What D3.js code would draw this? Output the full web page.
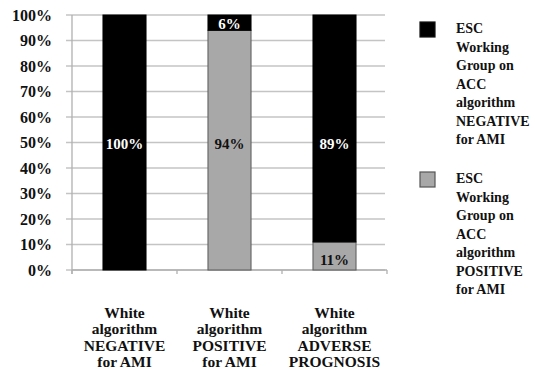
<!DOCTYPE html>
<html>
<head>
<meta charset="utf-8">
<script src="https://cdn.jsdelivr.net/npm/d3@7"></script>
<style>
  html, body { margin: 0; padding: 0; background: #fff; }
  svg { display: block; }
  text { font-family: "Liberation Serif", "Times New Roman", serif; font-weight: bold; }
</style>
</head>
<body>
<svg id="chart" width="535" height="370"></svg>
<script>
// Categories (each label broken into its printed lines)
const categories = [
  ["White", "algorithm", "NEGATIVE", "for AMI"],
  ["White", "algorithm", "POSITIVE", "for AMI"],
  ["White", "algorithm", "ADVERSE", "PROGNOSIS"]
];
// Percent of patients per category
const positiveValues = [0, 94, 11];   // ESC/ACC algorithm POSITIVE (grey, bottom)
const negativeValues = [100, 6, 89];  // ESC/ACC algorithm NEGATIVE (black, top)
const yTicks = [0, 10, 20, 30, 40, 50, 60, 70, 80, 90, 100];
const legendLabels = [
  ["ESC", "Working", "Group on", "ACC", "algorithm", "NEGATIVE", "for AMI"],
  ["ESC", "Working", "Group on", "ACC", "algorithm", "POSITIVE", "for AMI"]
];

const svg = d3.select("#chart");
const plotLeft = 72, plotRight = 387, plotTop = 15, plotBottom = 270;

const keys = categories.map((c, i) => i);
const xBand = d3.scaleBand().domain(keys).range([plotLeft, plotRight]).padding(0);
const xBar = d3.scaleBand().domain(keys).range([plotLeft, plotRight])
  .paddingInner(0.59).paddingOuter(0.295);
const y = d3.scaleLinear().domain([0, 100]).range([plotBottom, plotTop]);

// Horizontal gridlines
svg.append("g").selectAll("line").data(yTicks).join("line")
  .attr("x1", plotLeft - 6).attr("x2", plotRight - 2)
  .attr("y1", d => y(d)).attr("y2", d => y(d))
  .attr("stroke", "#c4c4c4").attr("stroke-width", 1.3);

// Y axis line and labels
svg.append("line").attr("x1", plotLeft).attr("x2", plotLeft)
  .attr("y1", plotTop).attr("y2", plotBottom + 4)
  .attr("stroke", "#b0b0b0").attr("stroke-width", 1.3);
svg.append("g").selectAll("text").data(yTicks).join("text")
  .attr("x", 52).attr("y", d => y(d) + 5.5)
  .attr("text-anchor", "end").attr("font-size", 16).attr("fill", "#111")
  .text(d => d + "%");

// X axis line with tick marks at band edges
svg.append("line").attr("x1", plotLeft).attr("x2", plotRight)
  .attr("y1", plotBottom).attr("y2", plotBottom)
  .attr("stroke", "#b0b0b0").attr("stroke-width", 1.3);
const edges = keys.map(k => xBand(k)).concat([xBand(keys[keys.length - 1]) + xBand.bandwidth()]);
svg.append("g").selectAll("line").data(edges).join("line")
  .attr("x1", d => d).attr("x2", d => d)
  .attr("y1", plotBottom).attr("y2", plotBottom + 4)
  .attr("stroke", "#b0b0b0").attr("stroke-width", 1.3);

// Stacked bars
const stackData = keys.map(i => ({ i, pos: positiveValues[i], neg: negativeValues[i] }));
const series = d3.stack().keys(["pos", "neg"])(stackData);
const fills = { pos: "#a8a8a8", neg: "#000" };
const strokes = { pos: "#5a5a5a", neg: "#000" };

series.forEach(s => {
  svg.append("g").selectAll("rect").data(s.filter(d => d[1] > d[0])).join("rect")
    .attr("x", d => xBar(d.data.i))
    .attr("width", xBar.bandwidth())
    .attr("y", d => y(d[1]))
    .attr("height", d => y(d[0]) - y(d[1]))
    .attr("fill", fills[s.key])
    .attr("stroke", strokes[s.key]).attr("stroke-width", 1);
});

// Value labels: large segments sit at chart mid-height, small ones in their segment
series.forEach(s => {
  svg.append("g").selectAll("text").data(s.filter(d => d[1] > d[0])).join("text")
    .attr("x", d => xBar(d.data.i) + xBar.bandwidth() / 2)
    .attr("y", d => {
      const v = d[1] - d[0];
      if (v >= 50) return y(50) + 6;
      const mid = (y(d[0]) + y(d[1])) / 2;
      return mid + (s.key === "pos" ? 9.5 : 6);
    })
    .attr("text-anchor", "middle").attr("font-size", 15)
    .attr("fill", s.key === "neg" ? "#fff" : "#111")
    .text(d => (d[1] - d[0]) + "%");
});

// Category labels
categories.forEach((lines, i) => {
  const cx = xBand(i) + xBand.bandwidth() / 2;
  const t = svg.append("text")
    .attr("text-anchor", "middle").attr("font-size", 15.5).attr("fill", "#111");
  lines.forEach((ln, j) => {
    t.append("tspan").attr("x", cx).attr("y", 318 + j * 16.4).text(ln);
  });
});

// Legend
const legendTops = [22, 172];
const legendFill = ["#000", "#a8a8a8"];
const legendStroke = ["#111", "#555"];
legendLabels.forEach((lines, i) => {
  const g = svg.append("g");
  g.append("rect").attr("x", 420).attr("y", legendTops[i])
    .attr("width", 15).attr("height", 15)
    .attr("fill", legendFill[i]).attr("stroke", legendStroke[i]).attr("stroke-width", 1.2);
  const t = g.append("text").attr("font-size", 14).attr("fill", "#111");
  lines.forEach((ln, j) => {
    t.append("tspan").attr("x", 456).attr("y", legendTops[i] + 11 + j * 18.5).text(ln);
  });
});
</script>
</body>
</html>
